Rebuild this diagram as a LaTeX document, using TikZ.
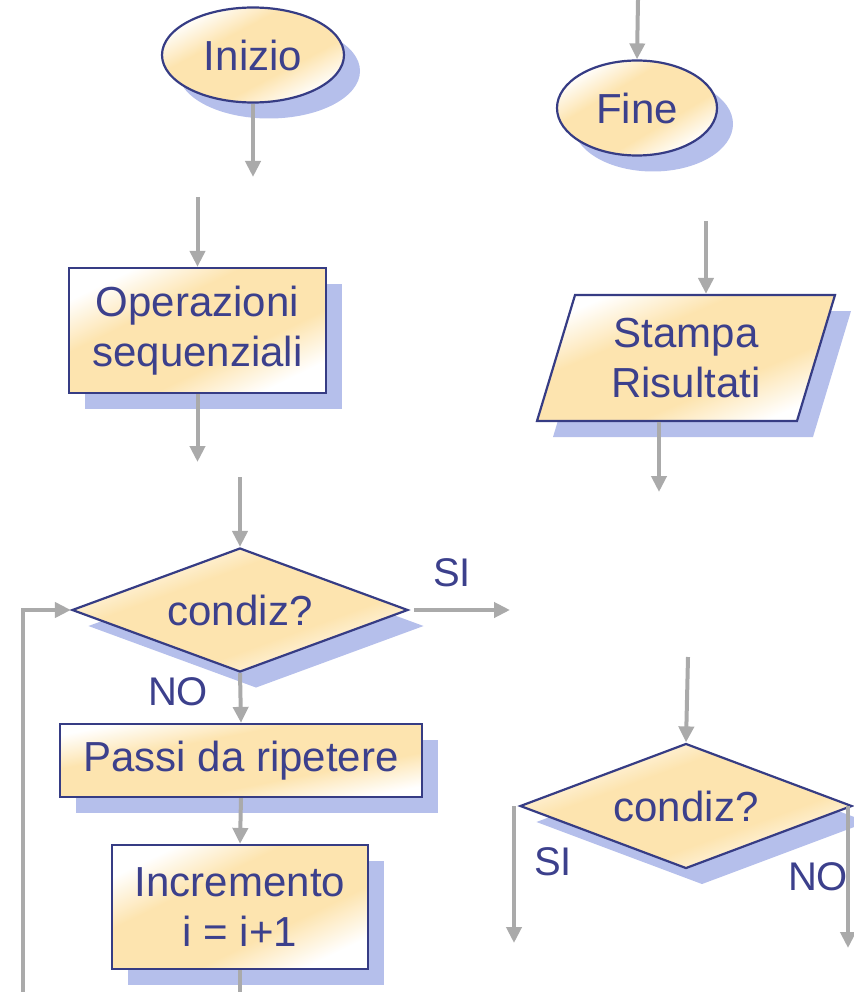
\documentclass[tikz,border=0pt]{standalone}
\usepackage{fontspec}
\setmainfont{Liberation Sans}
\usetikzlibrary{shapes.geometric}
\usetikzlibrary{shadows}
\usetikzlibrary{arrows.meta}
\definecolor{navy}{RGB}{54,60,132}
\definecolor{txtblue}{RGB}{60,64,140}
\definecolor{peach}{RGB}{253,228,175}
\definecolor{shadowblue}{RGB}{181,191,235}
\definecolor{wire}{RGB}{170,170,170}
\pgfdeclareverticalshading{peachband}{100bp}{color(0bp)=(white); color(25bp)=(white);
  color(39bp)=(peach); color(61bp)=(peach); color(75bp)=(white); color(100bp)=(white)}
\tikzset{>={Triangle[length=16pt,width=15pt]}}
\tikzset{
  block/.style={draw=navy, line width=2.2pt, inner sep=0pt, align=center,
    shading=peachband, shading angle=#1,
    drop shadow={shadow xshift=16pt, shadow yshift=-16pt, fill=shadowblue, opacity=1},
    text=txtblue, font=\fontsize{42}{50}\selectfont},
  block/.default=26,
  terminal/.style={block=#1, ellipse},
  process/.style={block=#1, rectangle},
  decision/.style={block=#1, diamond, aspect=2.7},
  io/.style={block=#1, trapezium, trapezium left angle=64.5, trapezium right angle=115.5,
    trapezium stretches body},
  lbl/.style={text=txtblue, font=\fontsize{40}{48}\selectfont, inner sep=0pt},
  flow/.style={->, draw=wire, line width=4pt}
}

\begin{document}
\begin{tikzpicture}[x=1pt, y=-1pt]
    \useasboundingbox (0,0) rectangle (853,992);

    % left column
    \node[terminal=28, minimum width=182pt, minimum height=95pt] at (253,55) (inizio) {Inizio};
    \node[process=26, minimum width=257pt, minimum height=125pt] at (197.5,330.5) (ops) {Operazioni\\sequenziali};
    \node[decision=20, minimum width=336pt, minimum height=124pt] at (240,610) (cond1) {condiz?};
    \node[process=11, minimum width=362pt, minimum height=73pt] at (241,760.5) (passi) {Passi da ripetere};
    \node[process=26, minimum width=256pt, minimum height=124pt] at (240,907) (incr) {Incremento\\i = i+1};

    % right column
    \node[terminal=31, minimum width=160pt, minimum height=95pt] at (637,108) (fine) {Fine};
    \node[io=23, minimum width=298pt, minimum height=126pt] at (686,358) (stampa) {Stampa\\Risultati};
    \node[decision=20, minimum width=332pt, minimum height=125pt] at (686,806) (cond2) {condiz?};

    \node[lbl] at (452,573) (si1lbl) {SI};
    \node[lbl] at (178,692) (no1lbl) {NO};
    \node[lbl] at (553,862) (si2lbl) {SI};
    \node[lbl] at (818,877) (no2lbl) {NO};

    \coordinate (s1) at (253,177);
    \coordinate (s2) at (197.5,197);
    \coordinate (s3) at (197.5,462);
    \coordinate (s4) at (240,477);
    \coordinate (si1) at (510,610);
    \coordinate (loop) at (23,992);
    \coordinate (s5) at (240,992);
    \coordinate (t1) at (638,0);
    \coordinate (t2) at (706,221);
    \coordinate (t3) at (659,492);
    \coordinate (t4) at (688,657);
    \coordinate (si2) at (514,943);
    \coordinate (no2) at (848,948);

    \draw[flow] (inizio.south) -- (s1);
    \draw[flow] (s2) -- (ops.north);
    \draw[flow] (ops.south) -- (s3);
    \draw[flow] (s4) -- (cond1.north);
    \draw[flow, shorten <=5pt] (cond1.east) -- (si1);
    \draw[flow] (cond1.south) -- (passi.north);
    \draw[flow] (passi.south) -- (incr.north);
    \draw[draw=wire, line width=4pt] (incr.south) -- (s5);
    \draw[flow] (loop) |- (cond1.west);

    \draw[flow] (t1) -- (fine.north);
    \draw[flow] (t2) -- (t2 |- stampa.north);
    \draw[flow] (t3 |- stampa.south) -- (t3);
    \draw[flow] (t4) -- (cond2.north);
    \draw[flow] (si2 |- cond2.west) -- (si2);
    \draw[flow] (no2 |- cond2.east) -- (no2);
\end{tikzpicture}
\end{document}
